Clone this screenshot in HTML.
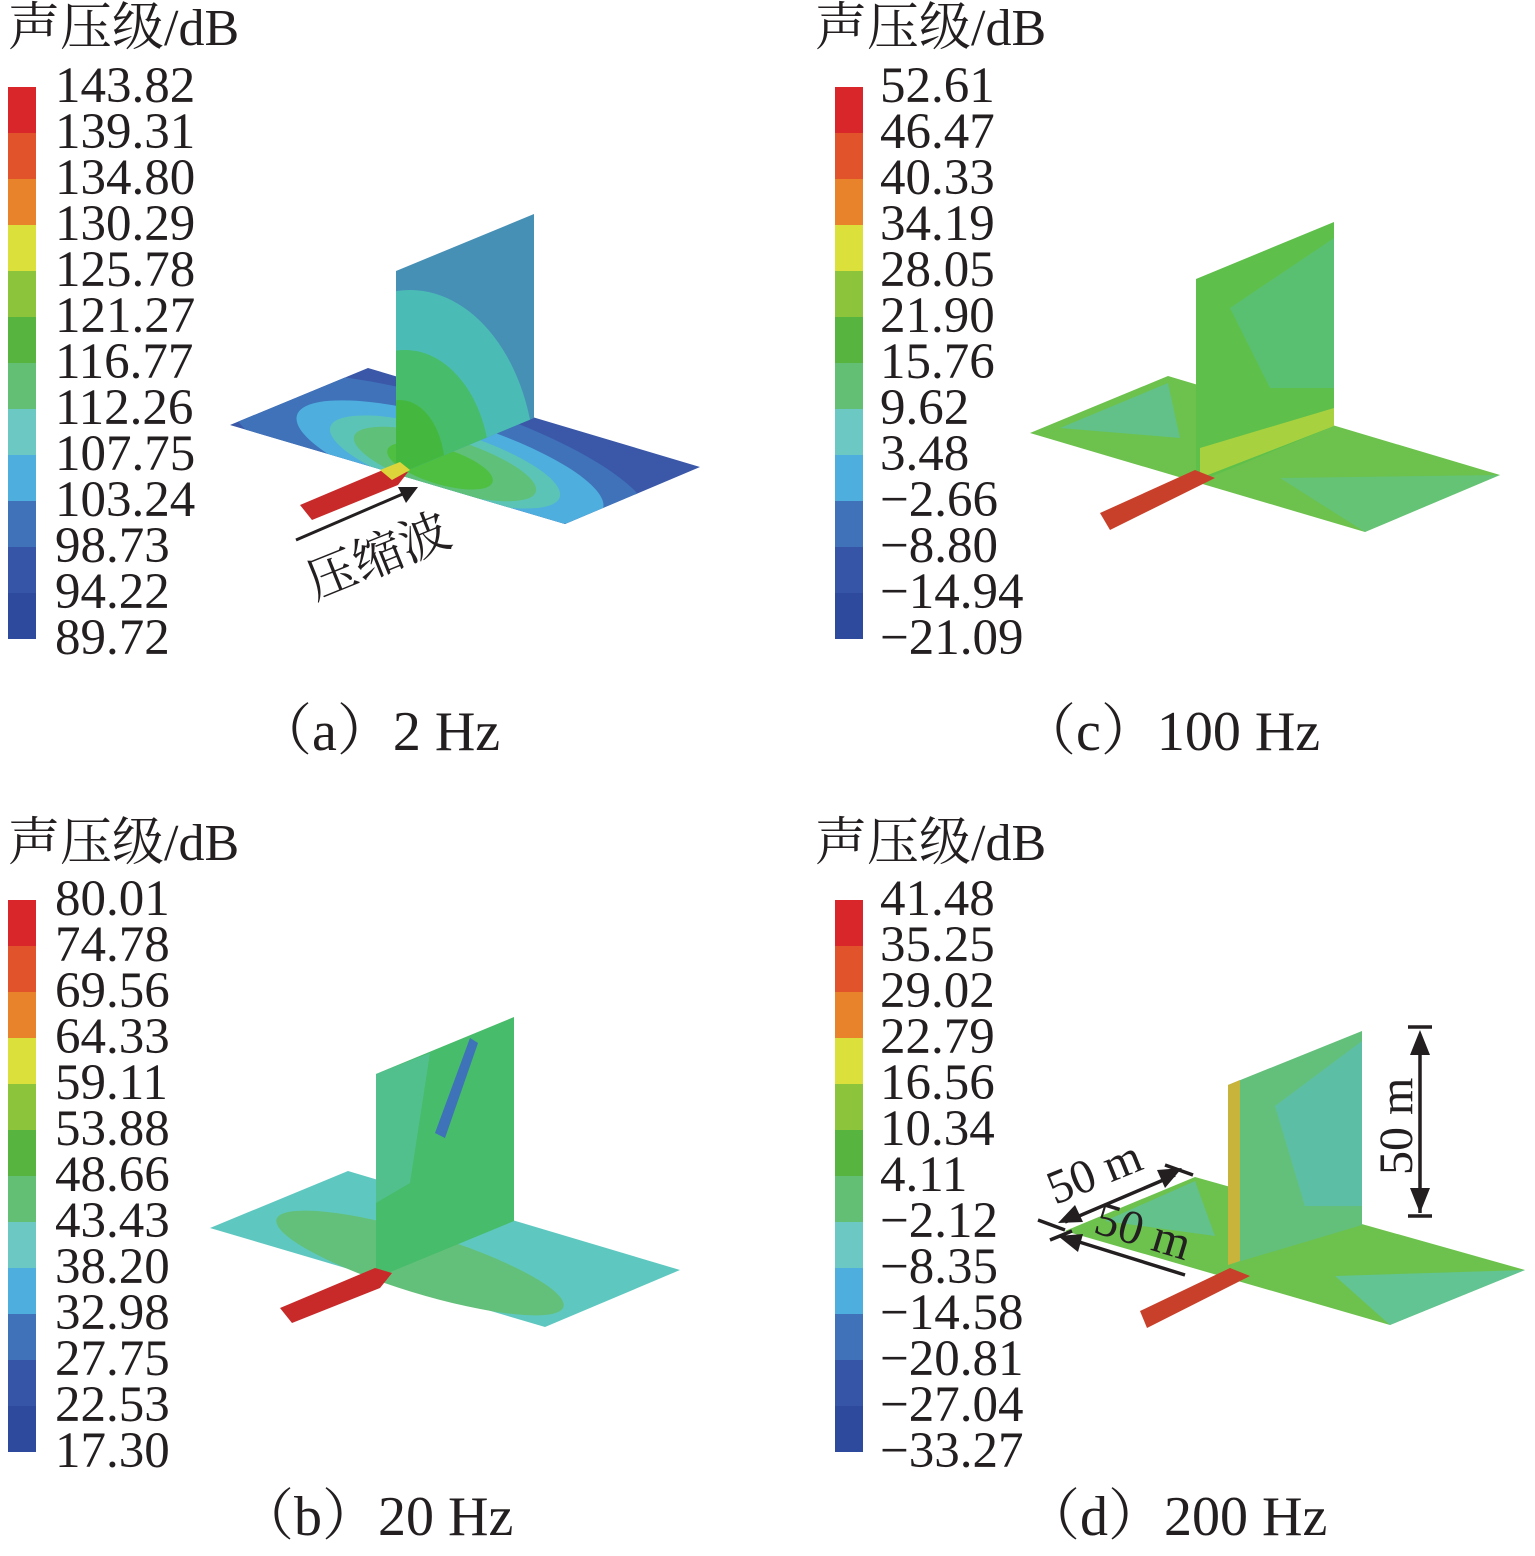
<!DOCTYPE html>
<html><head><meta charset="utf-8"><style>
body{margin:0;background:#fff}
svg{display:block}
text{font-family:"Liberation Serif","Noto Serif CJK SC",serif;fill:#231f20}
</style></head><body>
<svg width="1535" height="1556" viewBox="0 0 1535 1556" xmlns="http://www.w3.org/2000/svg">
<defs>
<g id="cb">
<rect x="0" y="0" width="28" height="46" fill="#d9262b"/>
<rect x="0" y="46" width="28" height="46" fill="#e0532b"/>
<rect x="0" y="92" width="28" height="46" fill="#e8822b"/>
<rect x="0" y="138" width="28" height="46" fill="#dce03a"/>
<rect x="0" y="184" width="28" height="46" fill="#8cc43c"/>
<rect x="0" y="230" width="28" height="46" fill="#57b43e"/>
<rect x="0" y="276" width="28" height="46" fill="#63bf74"/>
<rect x="0" y="322" width="28" height="46" fill="#6bc8c2"/>
<rect x="0" y="368" width="28" height="46" fill="#4eaede"/>
<rect x="0" y="414" width="28" height="46" fill="#3f72b9"/>
<rect x="0" y="460" width="28" height="46" fill="#3655a6"/>
<rect x="0" y="506" width="28" height="46" fill="#2e4a9c"/>
</g>
<clipPath id="cp"><polygon points="230,425 368,368 700,467 565,524"/></clipPath>
<clipPath id="cv"><polygon points="396,271 534,214 534,418 396,475"/></clipPath>
</defs>

<g font-size="51">
<text x="8" y="45" font-size="52">声压级/dB</text>
<use href="#cb" x="8" y="87"/>
<g><text x="55" y="102">143.82</text><text x="55" y="148">139.31</text><text x="55" y="194">134.80</text><text x="55" y="240">130.29</text><text x="55" y="286">125.78</text><text x="55" y="332">121.27</text><text x="55" y="378">116.77</text><text x="55" y="424">112.26</text><text x="55" y="470">107.75</text><text x="55" y="516">103.24</text><text x="55" y="562">98.73</text><text x="55" y="608">94.22</text><text x="55" y="654">89.72</text></g>

<text x="815" y="45" font-size="52">声压级/dB</text>
<use href="#cb" x="835" y="87"/>
<g><text x="880" y="102">52.61</text><text x="880" y="148">46.47</text><text x="880" y="194">40.33</text><text x="880" y="240">34.19</text><text x="880" y="286">28.05</text><text x="880" y="332">21.90</text><text x="880" y="378">15.76</text><text x="880" y="424">9.62</text><text x="880" y="470">3.48</text><text x="880" y="516">−2.66</text><text x="880" y="562">−8.80</text><text x="880" y="608">−14.94</text><text x="880" y="654">−21.09</text></g>

<text x="8" y="860" font-size="52">声压级/dB</text>
<use href="#cb" x="8" y="900"/>
<g><text x="55" y="915">80.01</text><text x="55" y="961">74.78</text><text x="55" y="1007">69.56</text><text x="55" y="1053">64.33</text><text x="55" y="1099">59.11</text><text x="55" y="1145">53.88</text><text x="55" y="1191">48.66</text><text x="55" y="1237">43.43</text><text x="55" y="1283">38.20</text><text x="55" y="1329">32.98</text><text x="55" y="1375">27.75</text><text x="55" y="1421">22.53</text><text x="55" y="1467">17.30</text></g>

<text x="815" y="860" font-size="52">声压级/dB</text>
<use href="#cb" x="835" y="900"/>
<g><text x="880" y="915">41.48</text><text x="880" y="961">35.25</text><text x="880" y="1007">29.02</text><text x="880" y="1053">22.79</text><text x="880" y="1099">16.56</text><text x="880" y="1145">10.34</text><text x="880" y="1191">4.11</text><text x="880" y="1237">−2.12</text><text x="880" y="1283">−8.35</text><text x="880" y="1329">−14.58</text><text x="880" y="1375">−20.81</text><text x="880" y="1421">−27.04</text><text x="880" y="1467">−33.27</text></g>
</g>

<g font-size="56">
<text x="256" y="750">（a）2 Hz</text>
<text x="1020" y="750">（c）100 Hz</text>
<text x="238" y="1535">（b）20 Hz</text>
<text x="1024" y="1535">（d）200 Hz</text>
</g>

<!-- Panel a -->
<g>
<polygon points="230,425 368,368 700,467 565,524" fill="#3a57a8"/>
<g clip-path="url(#cp)">
<ellipse cx="440" cy="460" rx="220" ry="60" fill="#3f72b9" transform="rotate(17 440 460)"/>
<ellipse cx="450" cy="462" rx="160" ry="42" fill="#4eaede" transform="rotate(17 450 462)"/>
<ellipse cx="445" cy="462" rx="120" ry="32" fill="#5cc4b6" transform="rotate(17 445 462)"/>
<ellipse cx="445" cy="464" rx="95" ry="26" fill="#5fc07a" transform="rotate(17 445 464)"/>
<ellipse cx="440" cy="466" rx="55" ry="18" fill="#4fbf42" transform="rotate(17 440 466)"/>
</g>
<polygon points="396,271 534,214 534,418 396,475" fill="#4690b6"/>
<g clip-path="url(#cv)">
<ellipse cx="410" cy="470" rx="125" ry="180" fill="#4bbcb5"/>
<ellipse cx="405" cy="470" rx="85" ry="120" fill="#47bc6a"/>
<ellipse cx="400" cy="470" rx="45" ry="70" fill="#44b83e"/>
</g>
<polygon points="300,505 390,467 408,472 398,485 312,520" fill="#c82a2a"/>
<polygon points="380,470 400,462 410,470 392,480" fill="#dcd63a"/>
<line x1="296" y1="540" x2="405" y2="493" stroke="#231f20" stroke-width="3"/>
<polygon points="418,487 398,487 406,503" fill="#231f20"/>
<text x="315" y="600" font-size="50" transform="rotate(-22 315 600)">压缩波</text>
</g>

<!-- Panel c -->
<g transform="translate(800,8)">
<polygon points="230,425 368,368 700,467 565,524" fill="#6cc24c"/>
<polygon points="260,420 368,375 380,430" fill="#5cc0b0" opacity="0.6"/>
<polygon points="480,470 700,467 565,524" fill="#5ec4a0" opacity="0.5"/>
<polygon points="396,271 534,214 534,418 396,475" fill="#5ec04a"/>
<polygon points="430,300 534,230 534,380 470,380" fill="#56c08c" opacity="0.6"/>
<polygon points="400,440 534,400 534,418 400,470" fill="#c8d83c" opacity="0.7"/>
<polygon points="300,505 395,462 415,470 310,522" fill="#c8402a"/>
</g>

<!-- Panel b -->
<g transform="translate(-20,803)">
<polygon points="230,425 368,368 700,467 565,524" fill="#5ec8c0"/>
<ellipse cx="440" cy="460" rx="150" ry="30" fill="#63c07a" transform="rotate(17 440 460)"/>
<polygon points="396,271 534,214 534,418 396,475" fill="#47bc6a"/>
<polygon points="455,330 490,235 498,240 465,335" fill="#3e72b9"/>
<polygon points="396,271 450,250 430,380 396,400" fill="#5ec4b0" opacity="0.5"/>
<polygon points="300,505 395,465 412,470 400,485 312,520" fill="#c82a2a"/>
</g>

<!-- Panel d -->
<g transform="translate(835,806)">
<polygon points="230,425 360,371 690,464 555,519" fill="#6cc24c"/>
<polygon points="270,415 360,375 380,430" fill="#5ec0b8" opacity="0.6"/>
<polygon points="500,470 690,464 555,519" fill="#5ec4b0" opacity="0.7"/>
<polygon points="393,279 527,225 527,419 393,459" fill="#63c07a"/>
<polygon points="440,300 527,235 527,400 470,400" fill="#5abfb8" opacity="0.7"/>
<polygon points="393,279 405,274 405,455 393,459" fill="#c8b43a"/>
<polygon points="305,505 395,462 415,470 312,522" fill="#c8402a"/>
</g>
<g stroke="#231f20" stroke-width="3.5" fill="#231f20">
<line x1="1420" y1="1040" x2="1420" y2="1213"/>
<line x1="1408" y1="1027" x2="1432" y2="1027"/>
<line x1="1408" y1="1216" x2="1432" y2="1216"/>
<polygon points="1420,1030 1410,1055 1430,1055" stroke="none"/>
<polygon points="1420,1213 1410,1188 1430,1188" stroke="none"/>
<line x1="1065" y1="1222" x2="1175" y2="1175"/>
<line x1="1165" y1="1165" x2="1193" y2="1175"/>
<line x1="1038" y1="1220" x2="1065" y2="1230"/>
<line x1="1050" y1="1240" x2="1072" y2="1231"/>
<line x1="1060" y1="1236" x2="1185" y2="1275"/>
<polygon points="1182,1168 1157,1170 1165,1188" stroke="none"/>
<polygon points="1058,1223 1083,1222 1075,1205" stroke="none"/>
<polygon points="1058,1236 1083,1234 1078,1252" stroke="none"/>
</g>
<text x="1055" y="1205" font-size="48" transform="rotate(-22 1055 1205)">50 m</text>
<text x="1092" y="1232" font-size="48" transform="rotate(17 1092 1232)">50 m</text>
<text x="1412" y="1175" font-size="48" transform="rotate(-90 1412 1175)">50 m</text>
</svg>
</body></html>
